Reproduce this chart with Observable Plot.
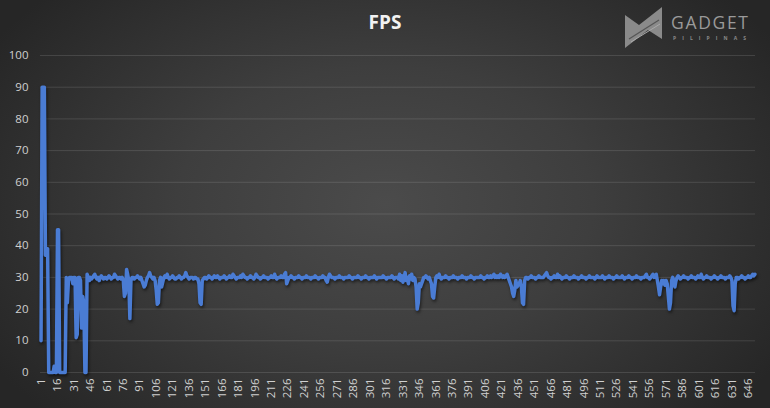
<!DOCTYPE html>
<html>
<head>
<meta charset="utf-8">
<script src="https://cdn.jsdelivr.net/npm/d3@7"></script>
<script src="https://cdn.jsdelivr.net/npm/@observablehq/plot@0.6"></script>
<style>
  html, body { margin: 0; padding: 0; }
  #wrap {
    position: relative; width: 770px; height: 408px; overflow: hidden;
    background: radial-gradient(ellipse 60% 75% at 50% 50%, #4b4b4b 0%, #3e3e3e 45%, #262626 100%);
    font-family: "Open Sans", sans-serif;
  }
  #title {
    position: absolute; left: 0; top: 13px; width: 770px; text-align: center;
    font-size: 19px; line-height: 19px; font-weight: 700; color: #f2f2f2;
  }
  #logo { position: absolute; left: 0; top: 0; }
  #chart { position: absolute; left: 0; top: 0; }
  #chart g[aria-label="line"] path { filter: drop-shadow(1px 2px 1.5px rgba(0,0,0,0.55)); }
</style>
</head>
<body>
<div id="wrap">
  <div id="chart"></div>
  <div id="title">FPS</div>
  <svg id="logo" width="770" height="60">
    <polygon points="625,15 639,25 662,7 662,39 648,30 625,48" fill="#8a8a8a"/>
    <line x1="629" y1="39" x2="659" y2="20" stroke="#555" stroke-width="1.2"/>
    <line x1="631" y1="42" x2="660" y2="24" stroke="#aaa" stroke-width="1"/>
    <text x="671" y="29" font-family="Open Sans" font-size="17.5" fill="#9a9a9a" textLength="77" lengthAdjust="spacing">GADGET</text>
    <text x="673" y="39.5" font-family="Open Sans" font-size="5" font-weight="700" fill="#8a8a8a" textLength="73" lengthAdjust="spacing">PILIPINAS</text>
  </svg>
</div>
<script>
// FPS per frame sample (index 1..652)
const fps = [
  10, 90, 90, 90, 37, 39, 39, 0, 0, 0,
  0, 0, 2, 0, 0, 45, 45, 0, 0, 0,
  0, 0, 0, 30, 22, 29, 30, 30, 30, 28,
  30, 30, 11, 12, 30, 30, 29, 14, 24, 22,
  0, 0, 31, 30, 29, 30, 29.5, 30, 30.5, 31,
  30, 29.5, 30, 29, 30, 30.5, 30, 29.5, 30, 30,
  29.5, 30, 30.5, 30, 29.5, 30, 30, 31, 30.5, 30,
  29.5, 30, 30, 29.5, 30, 29, 24, 25, 32.5, 31,
  29, 17, 29, 30, 30, 29.5, 30, 30, 30.5, 30,
  29.5, 30, 29, 28, 27, 27.5, 29, 30, 30.5, 31.5,
  30.5, 30, 29.5, 30, 29, 26, 21.5, 22, 29, 30,
  27, 28.5, 30, 30.5, 30, 31, 30, 29.5, 30, 30,
  30.5, 30, 29.5, 29.5, 30, 30, 30.5, 30, 29.5, 30,
  30, 30.5, 31.5, 30.5, 30, 29.5, 30, 30, 30, 29.5,
  30, 30, 29.5, 29.5, 28, 22, 21.5, 29, 29.5, 30,
  30, 29.5, 30, 30.5, 30, 30, 29.5, 30, 30.5, 30,
  30, 30.5, 30, 29.5, 30, 30, 30, 30.5, 30, 29.5,
  30, 30, 30.5, 30, 30, 31, 30.5, 30, 29.5, 30,
  30, 30, 30.5, 30, 31, 30.5, 30, 30, 29.5, 30,
  30, 30.5, 30, 30, 29.5, 30, 31, 30.5, 30, 30,
  29.5, 30, 30, 30.5, 30, 30, 30, 29.5, 30, 30,
  30.5, 30, 30, 31, 30, 29.5, 30, 30, 30, 30.5,
  30, 30, 31, 31.5, 28, 29, 30, 30, 30.5, 30,
  30, 29.5, 30, 30, 30, 30.5, 30, 30, 29.5, 30,
  30, 30, 30.5, 30, 30, 30, 29.5, 30, 30, 30,
  30.5, 30, 30, 29.5, 30, 30, 30, 30.5, 30, 30,
  29, 28.5, 30, 31, 30.5, 30, 30, 30, 29.5, 30,
  30, 30, 30.5, 30, 30, 30, 29.5, 30, 30, 30,
  30, 30.5, 30, 30, 29.5, 30, 30, 30, 30, 30.5,
  30, 30, 29.5, 30, 30, 30, 30.5, 30, 30, 29.5,
  30, 30, 30, 30, 30.5, 30, 29.5, 30, 30, 30,
  30, 30, 30.5, 30, 30, 29.5, 30, 30, 30, 30,
  30.5, 30, 29.5, 30, 30, 30, 29.5, 31, 29, 30.5,
  28.5, 30, 31.5, 29, 30, 28, 30.5, 29.5, 31, 29,
  30, 29.5, 27, 20, 22, 28, 27, 28, 29, 30,
  30, 30.5, 30, 29.5, 30, 29, 28, 24, 23.5, 27,
  30, 30.5, 30, 31, 30, 29.5, 30, 30, 30, 30.5,
  30, 30, 29.5, 30, 30, 30, 30.5, 30, 30, 30,
  29.5, 30, 30, 30, 30.5, 30, 30, 30, 29.5, 30,
  30, 30, 30.5, 30, 30, 29.5, 30, 30, 30, 30,
  30, 30.5, 30, 30, 29.5, 30, 30, 30.5, 30, 30,
  30.5, 30, 30.5, 31, 30, 30.5, 30, 30.5, 30, 31,
  30.5, 30, 30.5, 30, 30.5, 31, 30, 29, 28, 27,
  25, 24, 26, 29, 27, 27.5, 28, 29, 27, 22,
  21.5, 29, 30, 30, 29.5, 30, 30, 30.5, 30, 30,
  30, 29.5, 30, 30, 30.5, 30, 30, 30, 30, 30.5,
  31, 31.5, 30.5, 30, 30, 29.5, 30, 30, 30.5, 30,
  30, 31, 30, 30.5, 30, 29.5, 30, 30, 30, 30.5,
  30, 30, 29.5, 30, 30, 30, 30.5, 30, 30, 30,
  29.5, 30, 30, 30.5, 30, 30, 30, 29.5, 30, 30,
  30.5, 30, 30, 30, 30, 29.5, 30, 30.5, 30, 30,
  30, 30, 30.5, 30, 29.5, 30, 30, 30, 30.5, 30,
  30, 30, 29.5, 30, 30, 30.5, 30, 30, 30, 30,
  30.5, 30, 29.5, 30, 30, 30, 30.5, 30, 30, 29.5,
  30, 30, 30, 30.5, 30, 30, 30, 29.5, 30, 30,
  30, 30.5, 31, 30, 30, 29.5, 30, 30.5, 31, 30,
  30.5, 31, 29, 27, 24.5, 27, 29, 28, 29, 27.5,
  29, 28, 24, 20, 22, 29, 30, 29, 27, 29,
  30, 30.5, 30, 29.5, 30, 30, 30.5, 30, 30, 30,
  29.5, 30, 30, 30.5, 30, 30, 30, 29.5, 30, 30.5,
  30, 30, 31, 30, 29.5, 30, 30, 30.5, 30, 30,
  30, 29.5, 30, 30, 30.5, 30, 30, 29.5, 30, 30,
  30.5, 30, 30, 30, 29.5, 30, 30, 30, 30.5, 30,
  29, 21, 19.5, 28, 30, 30, 29.5, 30, 30, 30.5,
  30, 30, 29.5, 30, 30, 30.5, 30, 30, 30.5, 31,
  30.5, 31
];
const xTickLabels = [1, 16, 31, 46, 61, 76, 91, 106, 121, 136, 151, 166, 181, 196, 211, 226, 241, 256, 271, 286, 301, 316, 331, 346, 361, 376, 391, 406, 421, 436, 451, 466, 481, 496, 511, 526, 541, 556, 571, 586, 601, 616, 631, 646];
const yTicks = [0, 10, 20, 30, 40, 50, 60, 70, 80, 90, 100];
const nFrames = 652;

const data = fps.map((v, i) => ({frame: i + 1, fps: v}));

const chart = Plot.plot({
  width: 770,
  height: 408,
  marginLeft: 40,
  marginRight: 15,
  marginTop: 55,
  marginBottom: 36,
  style: {background: "transparent", color: "#d0d0d0", fontFamily: "Open Sans", fontSize: "11.5px"},
  x: {domain: [0.5, nFrames + 0.5], ticks: xTickLabels, tickFormat: d => String(d), tickRotate: -90, tickSize: 0, tickPadding: 6, label: null},
  y: {domain: [0, 100], ticks: yTicks, tickSize: 0, tickPadding: 12, label: null},
  marks: [
    Plot.ruleY(yTicks, {stroke: "#ffffff", strokeOpacity: 0.12, strokeWidth: 1}),
    Plot.line(data, {x: "frame", y: "fps", stroke: "#4a7cd4", strokeWidth: 3.5, strokeLinejoin: "round", strokeLinecap: "round"})
  ]
});
document.getElementById("chart").appendChild(chart);
</script>
</body>
</html>
